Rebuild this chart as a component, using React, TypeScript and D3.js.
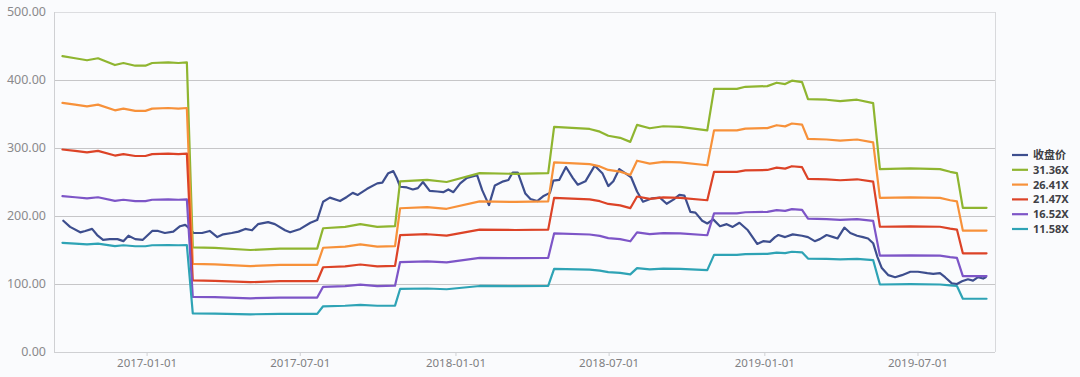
import React from "react";
import * as d3 from "d3";

const W = 1080;
const H = 377;

const seriesNames = ["收盘价", "31.36X", "26.41X", "21.47X", "16.52X", "11.58X"];
const seriesColors = ["#3d4e8e", "#8fb530", "#f7913a", "#dc4327", "#7d55c7", "#2ea3b5"];
const yTicks = [0, 100, 200, 300, 400, 500];
const xTickLabels = ["2017-01-01", "2017-07-01", "2018-01-01", "2018-07-01", "2019-01-01", "2019-07-01"];

const closeDates = [
  "2016-09-24", "2016-10-02", "2016-10-14", "2016-10-20", "2016-10-28", "2016-11-03", "2016-11-10", "2016-11-18",
  "2016-11-27", "2016-12-04", "2016-12-10", "2016-12-18", "2016-12-27", "2017-01-07", "2017-01-14", "2017-01-22",
  "2017-02-01", "2017-02-09", "2017-02-15", "2017-02-18", "2017-02-25", "2017-03-07", "2017-03-16", "2017-03-25",
  "2017-04-01", "2017-04-11", "2017-04-19", "2017-04-27", "2017-05-05", "2017-05-12", "2017-05-24", "2017-06-01",
  "2017-06-13", "2017-06-19", "2017-07-01", "2017-07-13", "2017-07-21", "2017-07-28", "2017-08-05", "2017-08-17",
  "2017-08-25", "2017-09-01", "2017-09-07", "2017-09-18", "2017-09-30", "2017-10-06", "2017-10-13", "2017-10-19",
  "2017-10-23", "2017-10-27", "2017-11-04", "2017-11-11", "2017-11-17", "2017-11-23", "2017-12-01", "2017-12-10",
  "2017-12-17", "2017-12-23", "2017-12-29", "2018-01-06", "2018-01-14", "2018-01-26", "2018-02-01", "2018-02-09",
  "2018-02-16", "2018-02-26", "2018-03-04", "2018-03-09", "2018-03-15", "2018-03-24", "2018-03-30", "2018-04-07",
  "2018-04-14", "2018-04-22", "2018-04-26", "2018-05-03", "2018-05-11", "2018-05-19", "2018-05-25", "2018-06-03",
  "2018-06-14", "2018-06-23", "2018-06-30", "2018-07-06", "2018-07-13", "2018-07-20", "2018-07-27", "2018-08-03",
  "2018-08-10", "2018-08-21", "2018-08-30", "2018-09-07", "2018-09-15", "2018-09-22", "2018-09-28", "2018-10-05",
  "2018-10-11", "2018-10-19", "2018-10-25", "2018-11-01", "2018-11-09", "2018-11-17", "2018-11-24", "2018-12-02",
  "2018-12-12", "2018-12-23", "2018-12-30", "2019-01-07", "2019-01-13", "2019-01-17", "2019-01-25", "2019-02-03",
  "2019-02-14", "2019-02-21", "2019-03-01", "2019-03-07", "2019-03-15", "2019-03-23", "2019-03-28", "2019-04-05",
  "2019-04-12", "2019-04-20", "2019-04-27", "2019-05-03", "2019-05-09", "2019-05-14", "2019-05-19", "2019-05-27",
  "2019-06-04", "2019-06-12", "2019-06-22", "2019-07-01", "2019-07-12", "2019-07-19", "2019-07-27", "2019-08-02",
  "2019-08-10", "2019-08-16", "2019-08-22", "2019-08-29", "2019-09-04", "2019-09-10", "2019-09-16", "2019-09-19",
];

const closeValues = [
  193, 184, 176, 178, 181, 172, 165, 166,
  166, 163, 171, 166, 165, 178, 178, 175,
  177, 185, 187, 184, 175, 175, 178, 169,
  173, 175, 177, 181, 179, 188, 191, 188,
  179, 176, 181, 190, 194, 221, 227, 222,
  228, 234, 231, 240, 248, 249, 263, 266,
  256, 243, 242, 239, 241, 250, 237, 236,
  235, 239, 235, 248, 256, 260, 238, 216,
  245, 251, 253, 264, 264, 233, 225, 222,
  229, 234, 252, 253, 272, 256, 246, 251,
  274, 263, 244, 251, 269, 263, 257, 236,
  221, 226, 227, 218, 224, 231, 230, 206,
  205, 193, 189, 195, 185, 188, 184, 190,
  179, 159, 163, 162, 169, 172, 169, 173,
  171, 169, 163, 166, 172, 169, 167, 183,
  175, 171, 169, 167, 160, 140, 124, 113,
  110, 113, 118, 118, 116, 115, 116, 110,
  101, 100, 104, 107, 105, 110, 108, 110,
];

const bandDates = [
  "2016-09-23", "2016-10-08", "2016-10-22", "2016-11-04", "2016-11-24", "2016-12-04", "2016-12-18", "2016-12-30",
  "2017-01-07", "2017-01-26", "2017-02-07", "2017-02-17", "2017-02-24", "2017-03-22", "2017-05-03", "2017-06-07",
  "2017-07-21", "2017-07-28", "2017-08-23", "2017-09-10", "2017-09-30", "2017-10-21", "2017-10-27", "2017-11-28",
  "2017-12-21", "2018-01-29", "2018-03-12", "2018-04-20", "2018-04-27", "2018-06-08", "2018-06-20", "2018-06-30",
  "2018-07-14", "2018-07-26", "2018-08-03", "2018-08-18", "2018-09-03", "2018-09-23", "2018-10-25", "2018-11-02",
  "2018-11-29", "2018-12-09", "2019-01-04", "2019-01-15", "2019-01-25", "2019-02-02", "2019-02-14", "2019-02-21",
  "2019-03-15", "2019-03-31", "2019-04-20", "2019-05-09", "2019-05-17", "2019-06-22", "2019-07-27", "2019-08-08",
  "2019-08-16", "2019-08-23", "2019-09-20",
];

const band3136 = [
  435, 432, 429, 432, 422, 425, 421, 421,
  425, 426, 425, 426, 154, 153, 150, 152,
  152, 182, 184, 188, 184, 185, 251, 253,
  250, 263, 262, 263, 331, 328, 324, 318,
  315, 309, 334, 329, 332, 331, 326, 387,
  387, 390, 391, 396, 394, 399, 397, 372,
  371, 369, 371, 366, 269, 270, 269, 265,
  263, 212, 212,
];

const band2641 = [
  366.4, 363.8, 361.3, 363.8, 355.4, 357.9, 354.6, 354.6,
  357.9, 358.8, 357.9, 358.8, 129.7, 128.9, 126.3, 128.0,
  128.0, 153.3, 155.0, 158.3, 155.0, 155.8, 211.4, 213.1,
  210.6, 221.5, 220.7, 221.5, 278.8, 276.2, 272.9, 267.8,
  265.3, 260.2, 281.3, 277.1, 279.6, 278.8, 274.6, 325.9,
  325.9, 328.5, 329.3, 333.5, 331.8, 336.0, 334.4, 313.3,
  312.5, 310.8, 312.5, 308.2, 226.6, 227.4, 226.6, 223.2,
  221.5, 178.5, 178.5,
];

const band2147 = [
  297.8, 295.7, 293.7, 295.7, 288.9, 291.0, 288.2, 288.2,
  291.0, 291.6, 291.0, 291.6, 105.4, 104.7, 102.7, 104.1,
  104.1, 124.6, 126.0, 128.7, 126.0, 126.7, 171.8, 173.2,
  171.2, 180.0, 179.4, 180.0, 226.6, 224.5, 221.8, 217.7,
  215.6, 211.5, 228.7, 225.2, 227.3, 226.6, 223.2, 264.9,
  264.9, 267.0, 267.7, 271.1, 269.7, 273.2, 271.8, 254.7,
  254.0, 252.6, 254.0, 250.6, 184.2, 184.8, 184.2, 181.4,
  180.0, 145.1, 145.1,
];

const band1652 = [
  229.2, 227.6, 226.0, 227.6, 222.3, 223.9, 221.8, 221.8,
  223.9, 224.4, 223.9, 224.4, 81.1, 80.6, 79.0, 80.1,
  80.1, 95.9, 96.9, 99.0, 96.9, 97.5, 132.2, 133.3,
  131.7, 138.5, 138.0, 138.5, 174.4, 172.8, 170.7, 167.5,
  165.9, 162.8, 176.0, 173.3, 174.9, 174.4, 171.7, 203.9,
  203.9, 205.5, 206.0, 208.6, 207.6, 210.2, 209.1, 196.0,
  195.4, 194.4, 195.4, 192.8, 141.7, 142.2, 141.7, 139.6,
  138.5, 111.7, 111.7,
];

const band1158 = [
  160.6, 159.5, 158.4, 159.5, 155.8, 157.0, 155.5, 155.5,
  157.0, 157.3, 157.0, 157.3, 56.9, 56.5, 55.4, 56.1,
  56.1, 67.2, 68.0, 69.4, 68.0, 68.3, 92.7, 93.4,
  92.3, 97.1, 96.8, 97.1, 122.2, 121.1, 119.7, 117.4,
  116.3, 114.1, 123.3, 121.5, 122.6, 122.2, 120.4, 142.9,
  142.9, 144.0, 144.4, 146.2, 145.5, 147.4, 146.6, 137.4,
  137.0, 136.3, 137.0, 135.2, 99.3, 99.7, 99.3, 97.9,
  97.1, 78.3, 78.3,
];

const parse = d3.utcParse("%Y-%m-%d");

export default function App() {
  const left = 54, right = 995, top = 12, bottom = 352;
  const x = d3.scaleUtc().domain([parse("2016-09-13")!, parse("2019-09-30")!]).range([left, right]);
  const y = d3.scaleLinear().domain([0, 500]).range([bottom, top]);

  const mk = (dates: string[], vals: number[]) => dates.map((d, i) => [parse(d)!, vals[i]] as [Date, number]);
  const series = [
    mk(closeDates, closeValues),
    mk(bandDates, band3136),
    mk(bandDates, band2641),
    mk(bandDates, band2147),
    mk(bandDates, band1652),
    mk(bandDates, band1158),
  ];
  const line = d3.line<[Date, number]>().x((d) => x(d[0])).y((d) => y(d[1]));

  const legendX = 1012;
  const legendY0 = 155;
  const legendStep = 14.8;

  return (
    <div style={{ position: "fixed", left: 0, top: 0, width: W, height: H }}>
      <svg width={W} height={H} style={{ display: "block", background: "#fafbfd" }}
        fontFamily="'Noto Sans', 'Noto Sans CJK SC', sans-serif">
        <rect x={0} y={0} width={W} height={H} fill="#fafbfd" />
        {/* plot frame */}
        <line x1={left} x2={right} y1={top + 0.5} y2={top + 0.5} stroke="#dcdde0" />
        <line x1={right + 0.5} x2={right + 0.5} y1={top} y2={bottom} stroke="#d8d9dc" />
        {yTicks.filter((t) => t > 0 && t < 500).map((t) => (
          <line key={t} x1={left} x2={right} y1={Math.round(y(t)) + 0.5} y2={Math.round(y(t)) + 0.5} stroke="#c6c6c8" />
        ))}
        <line x1={left + 0.5} x2={left + 0.5} y1={top} y2={bottom} stroke="#cfd0d3" />
        <line x1={left} x2={right} y1={bottom + 0.5} y2={bottom + 0.5} stroke="#cfd0d3" />
        {yTicks.map((t) => (
          <text key={t} x={46} y={y(t) + 4} textAnchor="end" fontSize={12.5} fill="#8a8a8c">
            {t.toFixed(2)}
          </text>
        ))}
        {xTickLabels.map((s) => {
          const px = x(parse(s)!);
          return (
            <g key={s}>
              <line x1={px} x2={px} y1={bottom} y2={bottom + 4} stroke="#cfd0d3" />
              <text x={px} y={367} textAnchor="middle" fontSize={11.5} fill="#7f7f82">
                {s}
              </text>
            </g>
          );
        })}
        {series.map((s, i) => (
          <path key={i} d={line(s) || ""} fill="none" stroke={seriesColors[i]} strokeWidth={2.2}
            strokeLinejoin="round" strokeLinecap="round" />
        ))}
        {seriesNames.map((n, i) => (
          <g key={n}>
            <line x1={legendX} x2={legendX + 16} y1={legendY0 + i * legendStep} y2={legendY0 + i * legendStep}
              stroke={seriesColors[i]} strokeWidth={2.2} />
            <text x={legendX + 21} y={legendY0 + i * legendStep + 4} fontSize={11} fontWeight="bold" fill="#404045">
              {n}
            </text>
          </g>
        ))}
      </svg>
    </div>
  );
}
